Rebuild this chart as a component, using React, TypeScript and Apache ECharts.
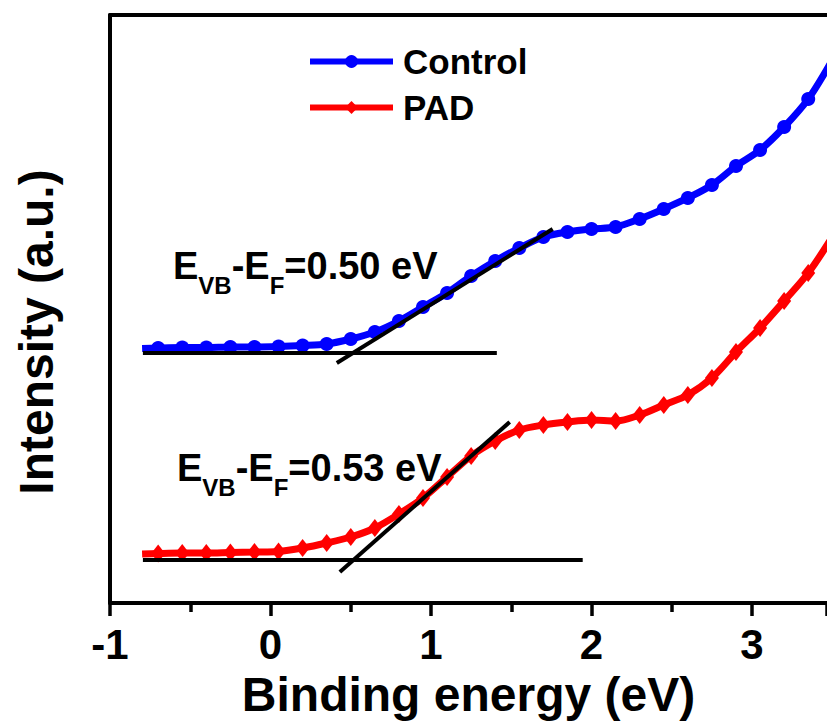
import React, { useEffect, useRef } from "react";
import * as echarts from "echarts";

// Binding energy (eV) of the sampled points
const energy = [
  -0.8, -0.7, -0.55, -0.4, -0.25, -0.1, 0.05, 0.2, 0.35, 0.5, 0.65, 0.8, 0.95, 1.1, 1.25,
  1.4, 1.55, 1.7, 1.85, 2.0, 2.15, 2.3, 2.45, 2.6, 2.75, 2.9, 3.05, 3.2, 3.35, 3.5,
];
// Intensity (a.u.), arbitrary 0-100 scale
const controlIntensity = [
  43.28, 43.37, 43.45, 43.45, 43.54, 43.54, 43.62, 43.79, 44.05, 44.9, 46.09, 47.96, 50.34,
  52.72, 55.61, 58.16, 60.37, 62.24, 63.1, 63.61, 63.95, 65.31, 67.01, 68.88, 71.09, 74.32,
  77.04, 80.95, 85.71, 92.35,
];
const padIntensity = [
  8.33, 8.42, 8.5, 8.5, 8.59, 8.67, 8.76, 9.35, 10.2, 11.22, 12.76, 15.14, 17.86, 21.43, 25.0,
  27.55, 29.42, 30.27, 30.78, 31.12, 30.95, 31.97, 33.67, 35.37, 38.27, 42.69, 46.77, 51.36,
  56.12, 62.24,
];

// Linear-fit guide lines [x0, x1] / [y0, y1]
const controlBaseX = [-0.795, 1.41];
const controlBaseY = [42.52, 42.52];
const controlTanX = [0.413, 1.758];
const controlTanY = [40.82, 63.61];
const padBaseX = [-0.795, 1.945];
const padBaseY = [7.31, 7.31];
const padTanX = [0.432, 1.49];
const padTanY = [5.27, 30.78];

const seriesNames = ["Control", "PAD"];
const annotationTexts = [
  "{m|E}{s|VB}{m|-E}{s|F}{m|=0.50 eV}",
  "{m|E}{s|VB}{m|-E}{s|F}{m|=0.53 eV}",
];
const xTitle = "Binding energy (eV)";
const yTitle = "Intensity (a.u.)";

const FONT = "'Liberation Sans', Arial, Helvetica, sans-serif";

const zip = (xs: number[], ys: number[]) => xs.map((x, i) => [x, ys[i]]);

const richStyle = {
  m: {
    fontFamily: FONT,
    fontWeight: "bold",
    fontSize: 38,
    lineHeight: 44,
    verticalAlign: "top",
    fill: "#000",
  },
  s: {
    fontFamily: FONT,
    fontWeight: "bold",
    fontSize: 24,
    lineHeight: 24,
    padding: [26, 0, 0, 0],
    verticalAlign: "top",
    fill: "#000",
  },
};

export default function App() {
  const ref = useRef<HTMLDivElement>(null);

  useEffect(() => {
    if (!ref.current) return;
    const chart = echarts.init(ref.current, null, { renderer: "svg" });
    const fitLine = (xs: number[], ys: number[]) => ({
      type: "line",
      data: zip(xs, ys),
      symbol: "none",
      silent: true,
      z: 5,
      lineStyle: { color: "#000", width: 4 },
      itemStyle: { color: "#000" },
    });
    const option: any = {
      animation: false,
      backgroundColor: "#fff",
      grid: { left: 110, right: 0, top: 15, bottom: 121, containLabel: false },
      legend: {
        data: seriesNames,
        orient: "vertical",
        left: 307,
        top: 44,
        padding: 0,
        itemWidth: 83,
        itemHeight: 16,
        itemGap: 11,
        lineStyle: { width: 6 },
        textStyle: {
          fontFamily: FONT,
          fontWeight: "bold",
          fontSize: 35,
          color: "#000",
          padding: [0, 0, 0, 5],
        },
      },
      xAxis: [
        {
          type: "value",
          min: -1,
          max: 3.467,
          interval: 1,
          name: xTitle,
          nameLocation: "middle",
          nameGap: 67,
          nameTextStyle: {
            fontFamily: FONT,
            fontWeight: "bold",
            fontSize: 48,
            color: "#000",
          },
          axisLine: { show: true, onZero: false, lineStyle: { color: "#000", width: 4 } },
          axisTick: { show: true, inside: false, length: 13, lineStyle: { color: "#000", width: 3.5 } },
          minorTick: { show: true, splitNumber: 2, length: 9, lineStyle: { color: "#000", width: 3.5 } },
          splitLine: { show: false },
          axisLabel: {
            show: true,
            margin: 20,
            showMaxLabel: false,
            fontFamily: FONT,
            fontWeight: "bold",
            fontSize: 42,
            color: "#000",
          },
        },
        {
          type: "value",
          position: "top",
          min: -1,
          max: 3.467,
          axisLine: { show: true, onZero: false, lineStyle: { color: "#000", width: 4 } },
          axisTick: { show: false },
          axisLabel: { show: false },
          splitLine: { show: false },
        },
      ],
      yAxis: {
        type: "value",
        min: 0,
        max: 100,
        axisLine: { show: true, onZero: false, lineStyle: { color: "#000", width: 4 } },
        axisTick: { show: false },
        axisLabel: { show: false },
        splitLine: { show: false },
      },
      series: [
        {
          name: seriesNames[0],
          type: "line",
          data: zip(energy, controlIntensity),
          smooth: 0.3,
          symbol: "circle",
          symbolSize: (_v: any, p: any) => (p.dataIndex === 0 ? 0 : 14),
          showAllSymbol: true,
          lineStyle: { color: "#0000FF", width: 7 },
          itemStyle: { color: "#0000FF" },
          z: 3,
        },
        {
          name: seriesNames[1],
          type: "line",
          data: zip(energy, padIntensity),
          smooth: 0.3,
          symbol: "diamond",
          symbolSize: (_v: any, p: any) => (p.dataIndex === 0 ? 0 : [14, 18]),
          showAllSymbol: true,
          lineStyle: { color: "#FF0000", width: 7 },
          itemStyle: { color: "#FF0000" },
          z: 3,
        },
        fitLine(controlBaseX, controlBaseY),
        fitLine(controlTanX, controlTanY),
        fitLine(padBaseX, padBaseY),
        fitLine(padTanX, padTanY),
      ],
      graphic: [
        {
          type: "text",
          x: 173,
          y: 247,
          z: 10,
          style: { text: annotationTexts[0], rich: richStyle, verticalAlign: "top", align: "left" },
        },
        {
          type: "text",
          x: 177,
          y: 449,
          z: 10,
          style: { text: annotationTexts[1], rich: richStyle, verticalAlign: "top", align: "left" },
        },
        {
          type: "text",
          x: 36,
          y: 332,
          rotation: Math.PI / 2,
          z: 10,
          style: {
            text: yTitle,
            fontFamily: FONT,
            fontWeight: "bold",
            fontSize: 48,
            fill: "#000",
            align: "center",
            verticalAlign: "middle",
          },
        },
      ],
    };
    chart.setOption(option);
    return () => chart.dispose();
  }, []);

  return (
    <div
      ref={ref}
      style={{ position: "absolute", left: 0, top: 0, width: 827, height: 724, background: "#fff" }}
    />
  );
}
